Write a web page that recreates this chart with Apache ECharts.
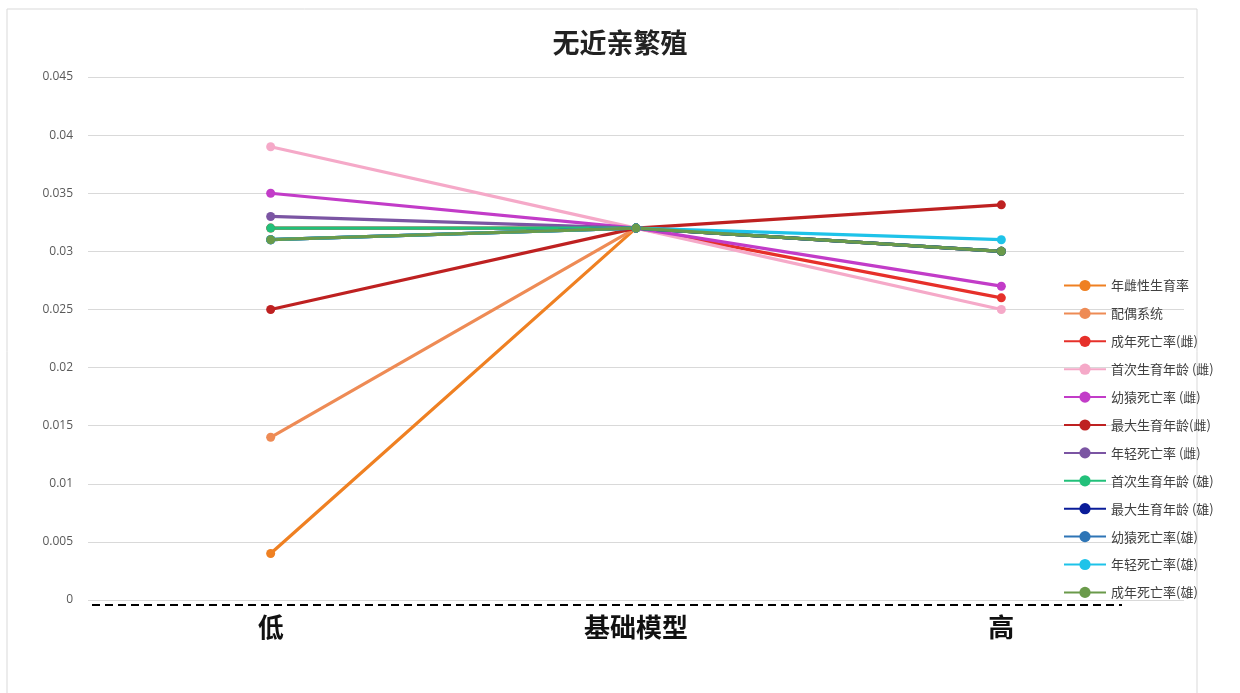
<!DOCTYPE html>
<html>
<head>
<meta charset="utf-8">
<script src="https://cdn.jsdelivr.net/npm/echarts@6/dist/echarts.min.js"></script>
<style>
html,body{margin:0;padding:0;background:#fff;}
#c{width:1240px;height:693px;}
</style>
</head>
<body>
<div id="c"></div>
<script>
const categories = ['低', '基础模型', '高'];
const seriesNames = [
  '年雌性生育率', '配偶系统', '成年死亡率(雌)', '首次生育年龄 (雌)', '幼猿死亡率 (雌)', '最大生育年龄(雌)',
  '年轻死亡率 (雌)', '首次生育年龄 (雄)', '最大生育年龄 (雄)', '幼猿死亡率(雄)', '年轻死亡率(雄)', '成年死亡率(雄)'
];
const s1 = [0.004, 0.032, 0.030];
const s2 = [0.014, 0.032, 0.030];
const s3 = [0.032, 0.032, 0.026];
const s4 = [0.039, 0.032, 0.025];
const s5 = [0.035, 0.032, 0.027];
const s6 = [0.025, 0.032, 0.034];
const s7 = [0.033, 0.032, 0.030];
const s8 = [0.032, 0.032, 0.030];
const s9 = [0.031, 0.032, 0.030];
const s10 = [0.031, 0.032, 0.030];
const s11 = [0.031, 0.032, 0.031];
const s12 = [0.031, 0.032, 0.030];
const seriesValues = [s1, s2, s3, s4, s5, s6, s7, s8, s9, s10, s11, s12];
const colors = ['#EF8022', '#EE8B55', '#E6302A', '#F5A9C8', '#C23CC8', '#BE2121',
                '#7B55A3', '#22C07A', '#0A1C99', '#2E75B6', '#1EC3E9', '#6A9A4A'];
const yTicks = { min: 0, max: 0.045, interval: 0.005 };

const chart = echarts.init(document.getElementById('c'), null, { renderer: 'canvas' });
const cjk = '"Noto Sans CJK SC", sans-serif';
chart.setOption({
  animation: false,
  backgroundColor: '#fff',
  color: colors,
  title: {
    text: '无近亲繁殖',
    left: 'center',
    top: 24,
    textStyle: { fontFamily: cjk, fontSize: 27, fontWeight: 'bold', color: '#222' }
  },
  legend: {
    orient: 'vertical',
    left: 1058,
    top: 274,
    itemWidth: 42,
    itemHeight: 14,
    itemGap: 14.9,
    textStyle: { fontFamily: cjk, fontSize: 13, color: '#404040' },
    data: seriesNames
  },
  grid: { left: 88, right: 56, top: 77, bottom: 93, containLabel: false },
  xAxis: {
    type: 'category',
    data: categories,
    boundaryGap: true,
    axisLine: { show: false },
    axisTick: { show: false },
    axisLabel: { margin: 14, fontFamily: cjk, fontSize: 26, fontWeight: 'bold', color: '#111' }
  },
  yAxis: {
    type: 'value',
    min: yTicks.min,
    max: yTicks.max,
    interval: yTicks.interval,
    axisLine: { show: false },
    axisTick: { show: false },
    axisLabel: { margin: 15, fontFamily: 'Open Sans, sans-serif', fontSize: 12, color: '#595959' },
    splitLine: { lineStyle: { color: '#d9d9d9', width: 1 } }
  },
  graphic: [
    { type: 'rect', shape: { x: 7, y: 9, width: 1190, height: 700 }, style: { fill: 'none', stroke: '#d9d9d9', lineWidth: 1 }, z: -1 },
    { type: 'line', shape: { x1: 92, y1: 605, x2: 1122, y2: 605 }, style: { stroke: '#000', lineWidth: 2, lineDash: [8, 5] } }
  ],
  series: seriesNames.map((name, i) => ({
    name: name,
    type: 'line',
    data: seriesValues[i],
    symbol: 'circle',
    symbolSize: 9,
    lineStyle: { width: 3.2, color: colors[i] },
    itemStyle: { color: colors[i] }
  }))
});
</script>
</body>
</html>
